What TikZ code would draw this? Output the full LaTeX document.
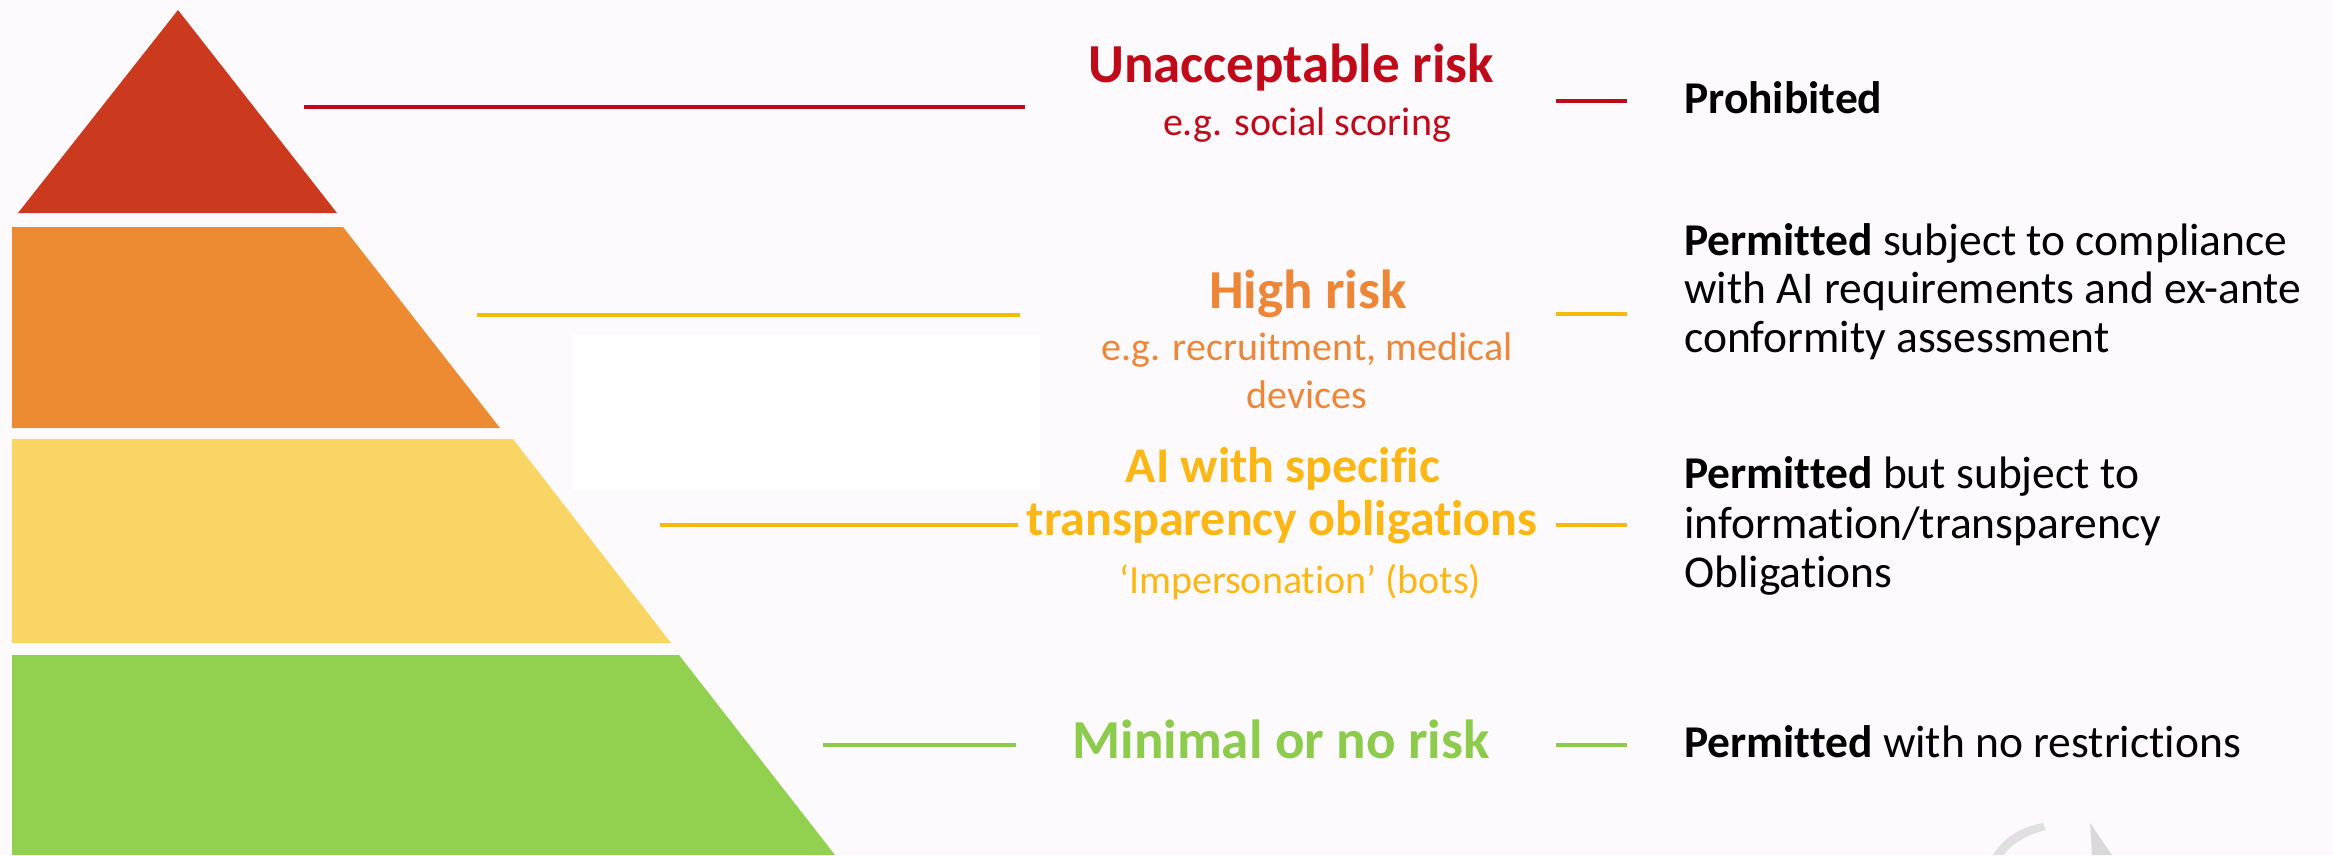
\documentclass[tikz,border=0pt]{standalone}
\usepackage{fontspec}
\setmainfont[Ligatures={NoCommon}]{Carlito}
\definecolor{bgc}{RGB}{252,250,252}
\definecolor{redT}{RGB}{203,58,31}
\definecolor{orT}{RGB}{236,139,50}
\definecolor{yeT}{RGB}{249,213,101}
\definecolor{grT}{RGB}{146,208,80}
\definecolor{redL}{RGB}{192,10,25}
\definecolor{orL}{RGB}{237,135,55}
\definecolor{yeL}{RGB}{244,188,10}
\definecolor{yeTxt}{RGB}{253,183,20}
\definecolor{grL}{RGB}{140,203,75}
\tikzset{
  lvl/.style={line width=4pt},
  big/.style={inner sep=0pt, anchor=base, font=\bfseries\fontsize{55}{60}\selectfont},
  bigy/.style={inner sep=0pt, anchor=base, font=\bfseries\fontsize{50}{60}\selectfont},
  small/.style={inner sep=0pt, anchor=base, font=\fontsize{40}{44}\selectfont},
  rtxt/.style={inner sep=0pt, anchor=base west, text=black, font=\fontsize{45.5}{48}\selectfont},
}
\begin{document}
\begin{tikzpicture}[x=1pt,y=-1pt]
\useasboundingbox (0,0) rectangle (2333,855);
\fill[bgc] (0,0) rectangle (2333,855);
\fill[white] (572,335) rectangle (1040,490);
% faint logo fragment
\fill[black!12] (1993,855) .. controls (2005,835) and (2025,826) .. (2043,823) -- (2046,830) .. controls (2030,834) and (2012,842) .. (2004,855) -- cycle;
\fill[black!15] (2090,823) -- (2112,855) -- (2092,855) -- cycle;
% pyramid
\fill[redT] (178,10) -- (337,213) -- (18,213) -- cycle;
\fill[orT] (12,227) -- (343,227) -- (500,428) -- (12,428) -- cycle;
\fill[yeT] (12,439) -- (513,439) -- (671,643) -- (12,643) -- cycle;
\fill[grT] (12,655) -- (679,655) -- (835,855) -- (12,855) -- cycle;
% coordinates
\coordinate (r1) at (304,107); \coordinate (r2) at (1025,107);
\coordinate (r3) at (1556,101); \coordinate (r4) at (1627,101);
\coordinate (o1) at (477,315); \coordinate (o2) at (1020,315);
\coordinate (o3) at (1556,314); \coordinate (o4) at (1627,314);
\coordinate (y1) at (660,525); \coordinate (y2) at (1018,525);
\coordinate (y3) at (1556,525); \coordinate (y4) at (1627,525);
\coordinate (g1) at (823,745); \coordinate (g2) at (1016,745);
\coordinate (g3) at (1556,745); \coordinate (g4) at (1627,745);
\draw[lvl, redL] (r1) -- (r2); \draw[lvl, redL] (r3) -- (r4);
\draw[lvl, yeL] (o1) -- (o2); \draw[lvl, yeL] (o3) -- (o4);
\draw[lvl, yeL] (y1) -- (y2); \draw[lvl, yeL] (y3) -- (y4);
\draw[lvl, grL] (g1) -- (g2); \draw[lvl, grL] (g3) -- (g4);
% middle labels
\node[big, text=redL] (u1) at (1291,82) {Unacceptable risk};
\node[small, text=redL] (u2) at (1307,135) {e.g. social scoring};
\node[big, text=orL] (h1) at (1308,308) {High risk};
\node[small, text=orL] (h2) at (1307,360) {e.g. recruitment, medical};
\node[small, text=orL] (h3) at (1307,408) {devices};
\node[bigy, text=yeTxt] (a1) at (1283,482) {AI with specific};
\node[bigy, text=yeTxt] (a2) at (1282,535) {transparency obligations};
\node[small, text=yeTxt] (a3) at (1300,593) {‘Impersonation’ (bots)};
\node[big, text=grL] (m1) at (1281,758) {Minimal or no risk};
% right labels
\node[rtxt] (p1) at (1684,113) {\textbf{Prohibited}};
\node[rtxt] (p2) at (1684,255) {\textbf{Permitted} subject to compliance};
\node[rtxt] (p3) at (1684,303) {with AI requirements and ex-ante};
\node[rtxt] (p4) at (1684,352) {conformity assessment};
\node[rtxt] (q1) at (1684,488) {\textbf{Permitted} but subject to};
\node[rtxt] (q2) at (1684,538) {information/transparency};
\node[rtxt] (q3) at (1684,587) {Obligations};
\node[rtxt] (n1) at (1684,757) {\textbf{Permitted} with no restrictions};
\end{tikzpicture}
\end{document}
